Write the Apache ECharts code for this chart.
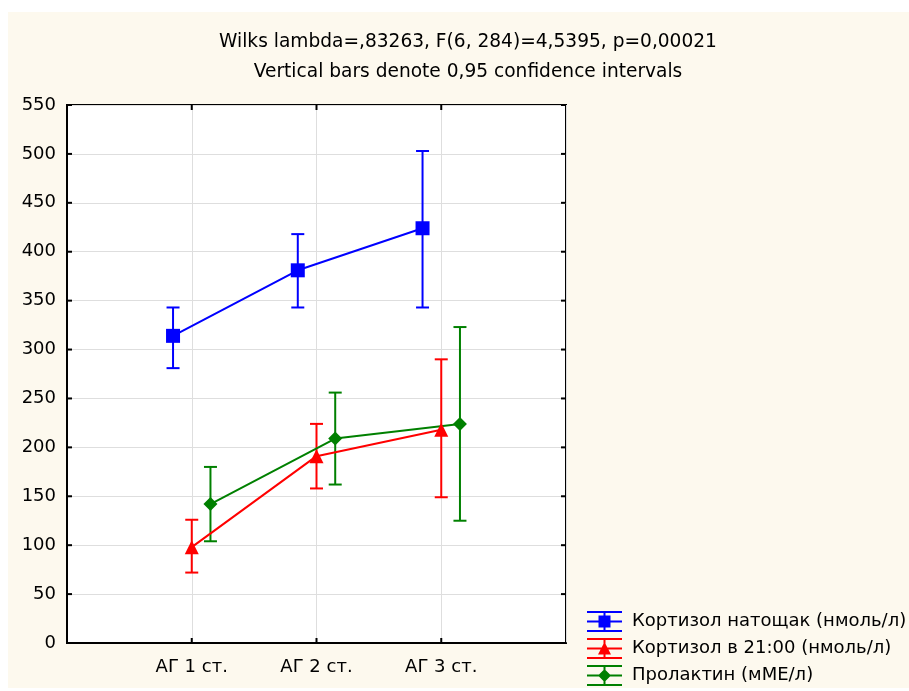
<!DOCTYPE html>
<html>
<head>
<meta charset="utf-8">
<script src="https://cdn.jsdelivr.net/npm/echarts@6/dist/echarts.min.js"></script>
<style>html,body{margin:0;padding:0;background:#fff}#c{width:909px;height:691px}</style>
</head>
<body>
<div id="c"></div>
<script>
const titleLine1 = 'Wilks lambda=,83263, F(6, 284)=4,5395, p=0,00021';
const titleLine2 = 'Vertical bars denote 0,95 confidence intervals';
const categories = ['АГ 1 ст.', 'АГ 2 ст.', 'АГ 3 ст.'];
const seriesNames = ['Кортизол натощак (нмоль/л)', 'Кортизол в 21:00 (нмоль/л)', 'Пролактин (мМЕ/л)'];
const cortMorningMean = [314, 381, 424];
const cortMorningLow  = [281, 343, 343];
const cortMorningHigh = [343, 418, 503];
const cortEveningMean = [98, 191, 218];
const cortEveningLow  = [72, 158, 149];
const cortEveningHigh = [126, 224, 290];
const prolactinMean = [142, 209, 224];
const prolactinLow  = [104, 162, 125];
const prolactinHigh = [180, 256, 323];
const yTicks = [0, 50, 100, 150, 200, 250, 300, 350, 400, 450, 500, 550];

const colors = ['#0000FF', '#FF0000', '#008000'];
const offsets = [-0.15, 0, 0.15];
const means = [cortMorningMean, cortEveningMean, prolactinMean];
const lows = [cortMorningLow, cortEveningLow, prolactinLow];
const highs = [cortMorningHigh, cortEveningHigh, prolactinHigh];
const symbols = ['rect', 'triangle', 'diamond'];
const symbolSizes = [14, 14, 14];
const X_MIN = 0, X_MAX = categories.length + 1;
const Y_MIN = yTicks[0], Y_MAX = yTicks[yTicks.length - 1];

const base = 'M0,0h35v2H0z M0,9.5h35v2H0z M0,19h35v2H0z M16.5,0h2v21h-2z ';
const icons = [
  'path://' + base + 'M11.5,4.5h12v12h-12z',
  'path://' + base + 'M17.5,4 L24,16.5 L11,16.5z',
  'path://' + base + 'M17.5,4 L24,10.5 L17.5,17 L11,10.5z'
];

const FONT = 'DejaVu Sans';
const chart = echarts.init(document.getElementById('c'), null, {renderer: 'canvas'});

const series = [];
for (let s = 0; s < 3; s++) {
  series.push({
    type: 'custom',
    silent: true,
    z: 2,
    renderItem: function (params, api) {
      const x = api.value(0);
      const lo = api.coord([x, api.value(1)]);
      const hi = api.coord([x, api.value(2)]);
      const hw = 6.5;
      const st = {stroke: colors[s], lineWidth: 2, fill: null};
      return {
        type: 'group',
        children: [
          {type: 'line', shape: {x1: lo[0], y1: lo[1], x2: hi[0], y2: hi[1]}, style: st},
          {type: 'line', shape: {x1: lo[0] - hw, y1: lo[1], x2: lo[0] + hw, y2: lo[1]}, style: st},
          {type: 'line', shape: {x1: hi[0] - hw, y1: hi[1], x2: hi[0] + hw, y2: hi[1]}, style: st}
        ]
      };
    },
    encode: {x: 0, y: [1, 2]},
    data: categories.map((c, i) => [i + 1 + offsets[s], lows[s][i], highs[s][i]])
  });
}
for (let s = 0; s < 3; s++) {
  series.push({
    type: 'line',
    name: seriesNames[s],
    z: 3,
    symbol: symbols[s],
    symbolSize: symbolSizes[s],
    showSymbol: true,
    itemStyle: {color: colors[s]},
    lineStyle: {color: colors[s], width: 2},
    data: categories.map((c, i) => [i + 1 + offsets[s], means[s][i]])
  });
}
// inward tick marks on all four frame sides
const tickSt = {stroke: '#000', lineWidth: 2};
series.push({
  type: 'custom', silent: true, z: 5, clip: false,
  renderItem: function (params, api) {
    const v = api.value(1);
    const l = api.coord([X_MIN, v]);
    const r = api.coord([X_MAX, v]);
    return {type: 'group', children: [
      {type: 'line', shape: {x1: l[0], y1: l[1], x2: l[0] + 5, y2: l[1]}, style: tickSt},
      {type: 'line', shape: {x1: r[0], y1: r[1], x2: r[0] - 5, y2: r[1]}, style: tickSt}
    ]};
  },
  encode: {x: 0, y: 1},
  data: yTicks.map(v => [X_MIN, v])
});
series.push({
  type: 'custom', silent: true, z: 5, clip: false,
  renderItem: function (params, api) {
    const x = api.value(0);
    const b = api.coord([x, Y_MIN]);
    const t = api.coord([x, Y_MAX]);
    return {type: 'group', children: [
      {type: 'line', shape: {x1: b[0], y1: b[1], x2: b[0], y2: b[1] - 5}, style: tickSt},
      {type: 'line', shape: {x1: t[0], y1: t[1], x2: t[0], y2: t[1] + 5}, style: tickSt}
    ]};
  },
  encode: {x: 0, y: 1},
  data: categories.map((c, i) => [i + 1, Y_MIN])
});

chart.setOption({
  animation: false,
  backgroundColor: '#ffffff',
  textStyle: {fontFamily: FONT},
  graphic: [
    {type: 'rect', z: -10, silent: true, shape: {x: 8, y: 12, width: 901, height: 676}, style: {fill: '#FDF9EE'}},
    {type: 'text', z: 10, silent: true, style: {text: titleLine1, x: 468, y: 42, textAlign: 'center', textVerticalAlign: 'middle', font: '18.6px "DejaVu Sans"', fill: '#000'}},
    {type: 'text', z: 10, silent: true, style: {text: titleLine2, x: 468, y: 72, textAlign: 'center', textVerticalAlign: 'middle', font: '18.6px "DejaVu Sans"', fill: '#000'}}
  ],
  grid: {left: 67, right: 343, top: 105, bottom: 48, show: true, backgroundColor: '#ffffff', borderColor: '#000', borderWidth: 2},
  legend: {
    orient: 'vertical',
    left: 587,
    top: 611,
    padding: 0,
    itemWidth: 35,
    itemHeight: 21,
    itemGap: 6,
    selectedMode: false,
    textStyle: {fontFamily: FONT, fontSize: 18, color: '#000', padding: [0, 0, 0, 5]},
    data: seriesNames.map((n, i) => ({name: n, icon: icons[i], itemStyle: {color: colors[i]}}))
  },
  xAxis: {
    type: 'value', min: X_MIN, max: X_MAX, interval: 1,
    axisLine: {show: true, lineStyle: {color: '#000', width: 2}},
    axisTick: {show: false},
    axisLabel: {
      fontFamily: FONT, fontSize: 18, color: '#000', margin: 15,
      formatter: v => (v >= 1 && v <= categories.length && Number.isInteger(v)) ? categories[v - 1] : '',
      showMinLabel: false, showMaxLabel: false
    },
    splitLine: {show: true, lineStyle: {color: '#dedede', width: 1}}
  },
  yAxis: {
    type: 'value', min: Y_MIN, max: Y_MAX, interval: yTicks[1] - yTicks[0],
    axisLine: {show: true, lineStyle: {color: '#000', width: 2}},
    axisTick: {show: false},
    axisLabel: {fontFamily: FONT, fontSize: 18, color: '#000', margin: 11},
    splitLine: {show: true, lineStyle: {color: '#dedede', width: 1}}
  },
  series: series
});
</script>
</body>
</html>
